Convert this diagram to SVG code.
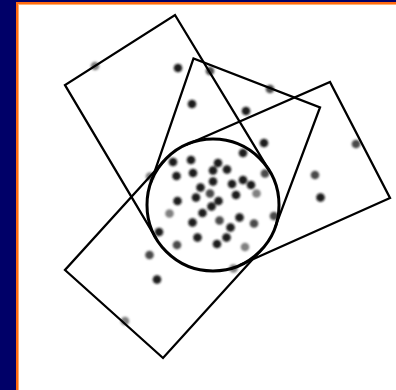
<svg xmlns="http://www.w3.org/2000/svg" width="396" height="390" viewBox="0 0 396 390">
<defs>
<filter id="blur" x="-50%" y="-50%" width="200%" height="200%"><feGaussianBlur stdDeviation="1.3"/></filter>
</defs>
<style>
.sh{fill:none;stroke:#000;stroke-width:2.3;stroke-linejoin:miter}
.cir{fill:none;stroke:#000;stroke-width:3}
.d{fill:#1a1a1a}
.m{fill:#4a4a4a}
.l{fill:#808080}
circle.d,circle.m,circle.l{r:4.3px}
</style>
<rect x="0" y="0" width="396" height="390" fill="#000068"/>
<rect x="16" y="2" width="380" height="388" fill="#ff6a10"/>
<rect x="18" y="4" width="378" height="386" fill="#ffb070"/>
<rect x="19" y="5" width="377" height="385" fill="#fff"/>
<g id="dots" filter="url(#blur)">
<circle class="l" cx="95" cy="66" r="4.3"/>
<circle class="d" cx="178" cy="68" r="4.3"/>
<circle class="m" cx="210" cy="71" r="4.3"/>
<circle class="m" cx="270" cy="89" r="4.3"/>
<circle class="d" cx="192" cy="104" r="4.3"/>
<circle class="d" cx="246" cy="111" r="4.3"/>
<circle class="m" cx="356" cy="144" r="4.3"/>
<circle class="d" cx="264" cy="143" r="4.3"/>
<circle class="d" cx="243" cy="153" r="4.3"/>
<circle class="d" cx="173" cy="162" r="4.3"/>
<circle class="d" cx="191" cy="160" r="4.3"/>
<circle class="d" cx="218" cy="163" r="4.3"/>
<circle class="d" cx="176.5" cy="176" r="4.3"/>
<circle class="d" cx="193" cy="173" r="4.3"/>
<circle class="d" cx="213" cy="170.5" r="4.3"/>
<circle class="d" cx="227" cy="169.5" r="4.3"/>
<circle class="m" cx="265" cy="173.5" r="4.3"/>
<circle class="m" cx="315" cy="175" r="4.3"/>
<circle class="l" cx="150" cy="176.5" r="4.3"/>
<circle class="d" cx="243" cy="180" r="4.3"/>
<circle class="d" cx="251" cy="185" r="4.3"/>
<circle class="d" cx="232" cy="184" r="4.3"/>
<circle class="d" cx="213" cy="181.5" r="4.3"/>
<circle class="d" cx="200.5" cy="187.5" r="4.3"/>
<circle class="m" cx="210" cy="193.5" r="4.3"/>
<circle class="d" cx="218.5" cy="201" r="4.3"/>
<circle class="d" cx="236" cy="195" r="4.3"/>
<circle class="l" cx="256.5" cy="193.5" r="4.3"/>
<circle class="d" cx="196" cy="197.5" r="4.3"/>
<circle class="d" cx="177.5" cy="201" r="4.3"/>
<circle class="d" cx="320.5" cy="197.5" r="4.3"/>
<circle class="d" cx="211.5" cy="206.5" r="4.3"/>
<circle class="d" cx="202.5" cy="213" r="4.3"/>
<circle class="l" cx="169.5" cy="213.5" r="4.3"/>
<circle class="d" cx="239.5" cy="217.5" r="4.3"/>
<circle class="m" cx="274" cy="216" r="4.3"/>
<circle class="m" cx="219.5" cy="220.5" r="4.3"/>
<circle class="m" cx="254" cy="223.5" r="4.3"/>
<circle class="d" cx="192.5" cy="222.5" r="4.3"/>
<circle class="d" cx="230.5" cy="227.5" r="4.3"/>
<circle class="d" cx="159" cy="232" r="4.3"/>
<circle class="d" cx="197.5" cy="237.5" r="4.3"/>
<circle class="d" cx="226.5" cy="237.5" r="4.3"/>
<circle class="d" cx="217" cy="244" r="4.3"/>
<circle class="m" cx="177" cy="245" r="4.3"/>
<circle class="l" cx="245" cy="247" r="4.3"/>
<circle class="m" cx="149.5" cy="255" r="4.3"/>
<circle class="l" cx="233.5" cy="268.5" r="4.3"/>
<circle class="d" cx="157" cy="279.5" r="4.3"/>
<circle class="l" cx="125" cy="321" r="4.3"/>
</g>
<g id="connectors">
<path id="shapeA" class="sh" d="M156.4,238.9 L65,85 L175,15 L269.6,171.1"/>
<path id="shapeB" class="sh" d="M150.8,182.8 L193.5,58.5 L320,107.5 L275.2,227.2"/>
<path id="shapeC" class="sh" d="M186,145 L330,82 L390,198 L240,265"/>
<path id="shapeD" class="sh" d="M164,161 L65,270 L163,358 L262,249"/>
</g>
<g id="circle">
<circle class="cir" cx="213" cy="205" r="66"/>
</g>
</svg>
